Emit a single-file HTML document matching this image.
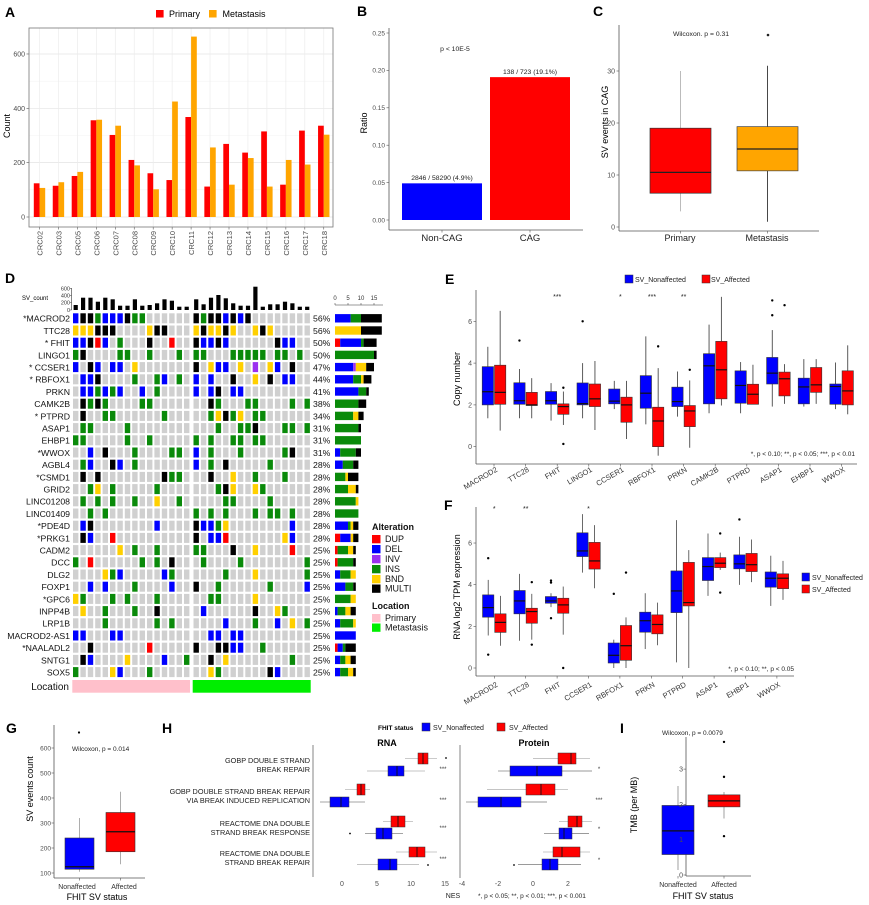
<!DOCTYPE html>
<html><head><meta charset="utf-8"><title>Figure</title>
<style>html,body{margin:0;padding:0;background:#fff}svg{display:block}text{font-family:"Liberation Sans",Arial,sans-serif}</style>
</head><body>
<svg id="s" xmlns="http://www.w3.org/2000/svg" width="869" height="905" viewBox="0 0 869 905">
<rect width="869" height="905" fill="#fff"/>
<g id="shapes"></g>
<g id="texts">
<g font-weight="bold" font-size="14" fill="#000">
<text x="5" y="17">A</text><text x="357" y="16">B</text><text x="593" y="16">C</text>
<text x="5" y="283">D</text><text x="445" y="284">E</text><text x="444" y="510">F</text>
<text x="6" y="733">G</text><text x="162" y="733">H</text><text x="620" y="733">I</text>
</g>
<!-- A -->
<g font-size="9"><text x="169" y="17">Primary</text><text x="222.5" y="17">Metastasis</text></g>
<g font-size="7" fill="#4d4d4d" text-anchor="end">
<text x="25" y="219.5">0</text><text x="25" y="165.2">200</text><text x="25" y="110.8">400</text><text x="25" y="56.5">600</text></g>
<text transform="translate(10,126) rotate(-90)" font-size="9" text-anchor="middle">Count</text>
<g font-size="7.5" fill="#4d4d4d" text-anchor="end">
<text transform="translate(42.5,231) rotate(-90)">CRC02</text>
<text transform="translate(61.45,231) rotate(-90)">CRC03</text>
<text transform="translate(80.4,231) rotate(-90)">CRC05</text>
<text transform="translate(99.35,231) rotate(-90)">CRC06</text>
<text transform="translate(118.3,231) rotate(-90)">CRC07</text>
<text transform="translate(137.25,231) rotate(-90)">CRC08</text>
<text transform="translate(156.2,231) rotate(-90)">CRC09</text>
<text transform="translate(175.15,231) rotate(-90)">CRC10</text>
<text transform="translate(194.1,231) rotate(-90)">CRC11</text>
<text transform="translate(213.05,231) rotate(-90)">CRC12</text>
<text transform="translate(232,231) rotate(-90)">CRC13</text>
<text transform="translate(250.95,231) rotate(-90)">CRC14</text>
<text transform="translate(269.9,231) rotate(-90)">CRC15</text>
<text transform="translate(288.85,231) rotate(-90)">CRC16</text>
<text transform="translate(307.8,231) rotate(-90)">CRC17</text>
<text transform="translate(326.75,231) rotate(-90)">CRC18</text>
</g>
<!-- B -->
<g font-size="6.5" fill="#4d4d4d" text-anchor="end">
<text x="385" y="222.3">0.00</text><text x="385" y="184.9">0.05</text><text x="385" y="147.5">0.10</text>
<text x="385" y="110.1">0.15</text><text x="385" y="72.7">0.20</text><text x="385" y="35.3">0.25</text></g>
<text transform="translate(367,123) rotate(-90)" font-size="9" text-anchor="middle">Ratio</text>
<g font-size="6.8" text-anchor="middle" fill="#222">
<text x="455" y="51">p &lt; 10E-5</text>
<text x="442" y="180">2846 / 58290 (4.9%)</text>
<text x="530" y="74">138 / 723 (19.1%)</text></g>
<g font-size="9.5" text-anchor="middle" fill="#222"><text x="442" y="241">Non-CAG</text><text x="530" y="241">CAG</text></g>
<!-- C -->
<g font-size="7" fill="#4d4d4d" text-anchor="end">
<text x="615" y="229.5">0</text><text x="615" y="177.5">10</text><text x="615" y="125.5">20</text><text x="615" y="73.5">30</text></g>
<text x="701" y="36" font-size="6.8" text-anchor="middle" fill="#222">Wilcoxon. p = 0.31</text>
<text transform="translate(608,122) rotate(-90)" font-size="9" text-anchor="middle">SV events in CAG</text>
<g font-size="9" text-anchor="middle" fill="#222"><text x="680" y="241">Primary</text><text x="767" y="241">Metastasis</text></g>
<!-- D -->
<text x="22" y="300" font-size="6">SV_count</text>
<g font-size="5.5" fill="#333" text-anchor="end">
<text x="70" y="290.3">600</text><text x="70" y="297.7">400</text><text x="70" y="304.7">200</text><text x="70" y="312">0</text></g>
<g font-size="6" fill="#333" text-anchor="middle">
<text x="335" y="300">0</text><text x="348" y="300">5</text><text x="361" y="300">10</text><text x="374" y="300">15</text></g>
<g font-size="8.7" text-anchor="end" fill="#111">
<text x="70" y="321.7">*MACROD2</text><text x="70" y="333.9">TTC28</text><text x="70" y="346.1">* FHIT</text>
<text x="70" y="358.3">LINGO1</text><text x="70" y="370.5">* CCSER1</text><text x="70" y="382.7">* RBFOX1</text>
<text x="70" y="394.9">PRKN</text><text x="70" y="407.1">CAMK2B</text><text x="70" y="419.3">* PTPRD</text>
<text x="70" y="431.5">ASAP1</text><text x="70" y="443.7">EHBP1</text><text x="70" y="455.9">*WWOX</text>
<text x="70" y="468.1">AGBL4</text><text x="70" y="480.3">*CSMD1</text><text x="70" y="492.5">GRID2</text>
<text x="70" y="504.7">LINC01208</text><text x="70" y="516.9">LINC01409</text><text x="70" y="529.1">*PDE4D</text>
<text x="70" y="541.3">*PRKG1</text><text x="70" y="553.5">CADM2</text><text x="70" y="565.7">DCC</text>
<text x="70" y="577.9">DLG2</text><text x="70" y="590.1">FOXP1</text><text x="70" y="602.3">*GPC6</text>
<text x="70" y="614.5">INPP4B</text><text x="70" y="626.7">LRP1B</text><text x="70" y="638.9">MACROD2-AS1</text>
<text x="70" y="651.1">*NAALADL2</text><text x="70" y="663.3">SNTG1</text><text x="70" y="675.5">SOX5</text>
</g>
<g font-size="8.7" fill="#111">
<text x="313" y="321.7">56%</text><text x="313" y="333.9">56%</text><text x="313" y="346.1">50%</text>
<text x="313" y="358.3">50%</text><text x="313" y="370.5">47%</text><text x="313" y="382.7">44%</text>
<text x="313" y="394.9">41%</text><text x="313" y="407.1">38%</text><text x="313" y="419.3">34%</text>
<text x="313" y="431.5">31%</text><text x="313" y="443.7">31%</text><text x="313" y="455.9">31%</text>
<text x="313" y="468.1">28%</text><text x="313" y="480.3">28%</text><text x="313" y="492.5">28%</text>
<text x="313" y="504.7">28%</text><text x="313" y="516.9">28%</text><text x="313" y="529.1">28%</text>
<text x="313" y="541.3">28%</text><text x="313" y="553.5">25%</text><text x="313" y="565.7">25%</text>
<text x="313" y="577.9">25%</text><text x="313" y="590.1">25%</text><text x="313" y="602.3">25%</text>
<text x="313" y="614.5">25%</text><text x="313" y="626.7">25%</text><text x="313" y="638.9">25%</text>
<text x="313" y="651.1">25%</text><text x="313" y="663.3">25%</text><text x="313" y="675.5">25%</text>
</g>
<text x="69" y="690" font-size="10" text-anchor="end" fill="#111">Location</text>
<g font-size="9" fill="#111">
<text x="372" y="530" font-weight="bold">Alteration</text>
<text x="385" y="542">DUP</text><text x="385" y="552">DEL</text><text x="385" y="562">INV</text>
<text x="385" y="572">INS</text><text x="385" y="582">BND</text><text x="385" y="591.5">MULTI</text>
<text x="372" y="609" font-weight="bold">Location</text>
<text x="385" y="621">Primary</text><text x="385" y="630.5">Metastasis</text>
</g>
<!-- E -->
<g font-size="7" fill="#222"><text x="635" y="282">SV_Nonaffected</text><text x="711" y="282">SV_Affected</text></g>
<g font-size="7" text-anchor="middle" fill="#222">
<text x="557.2" y="299">***</text><text x="620.4" y="299">*</text><text x="652" y="299">***</text><text x="683.6" y="299">**</text></g>
<g font-size="7" fill="#4d4d4d" text-anchor="end">
<text x="472" y="449.2">0</text><text x="472" y="407.4">2</text><text x="472" y="365.6">4</text><text x="472" y="323.8">6</text></g>
<text transform="translate(460,379) rotate(-90)" font-size="9" text-anchor="middle">Copy number</text>
<text x="855" y="456" font-size="6.5" text-anchor="end" fill="#222">*, p &lt; 0.10; **, p &lt; 0.05; ***, p &lt; 0.01</text>
<g font-size="7.5" fill="#333" text-anchor="end">
<text transform="translate(498,471) rotate(-30)">MACROD2</text>
<text transform="translate(529.6,471) rotate(-30)">TTC28</text>
<text transform="translate(561.2,471) rotate(-30)">FHIT</text>
<text transform="translate(592.8,471) rotate(-30)">LINGO1</text>
<text transform="translate(624.4,471) rotate(-30)">CCSER1</text>
<text transform="translate(656,471) rotate(-30)">RBFOX1</text>
<text transform="translate(687.6,471) rotate(-30)">PRKN</text>
<text transform="translate(719.2,471) rotate(-30)">CAMK2B</text>
<text transform="translate(750.8,471) rotate(-30)">PTPRD</text>
<text transform="translate(782.4,471) rotate(-30)">ASAP1</text>
<text transform="translate(814,471) rotate(-30)">EHBP1</text>
<text transform="translate(845.6,471) rotate(-30)">WWOX</text>
</g>
<!-- F -->
<g font-size="7" text-anchor="middle" fill="#222">
<text x="494.3" y="511">*</text><text x="525.7" y="511">**</text><text x="588.5" y="511">*</text></g>
<g font-size="7" fill="#4d4d4d" text-anchor="end">
<text x="472" y="670.5">0</text><text x="472" y="628.8">2</text><text x="472" y="587.2">4</text><text x="472" y="545.5">6</text></g>
<text transform="translate(460,587) rotate(-90)" font-size="9" text-anchor="middle">RNA log2 TPM expression</text>
<g font-size="7" fill="#222"><text x="812" y="580">SV_Nonaffected</text><text x="812" y="592">SV_Affected</text></g>
<text x="794" y="671" font-size="6.5" text-anchor="end" fill="#222">*, p &lt; 0.10; **, p &lt; 0.05</text>
<g font-size="7.5" fill="#333" text-anchor="end">
<text transform="translate(498.3,686) rotate(-30)">MACROD2</text>
<text transform="translate(529.7,686) rotate(-30)">TTC28</text>
<text transform="translate(561.1,686) rotate(-30)">FHIT</text>
<text transform="translate(592.5,686) rotate(-30)">CCSER1</text>
<text transform="translate(623.9,686) rotate(-30)">RBFOX1</text>
<text transform="translate(655.3,686) rotate(-30)">PRKN</text>
<text transform="translate(686.7,686) rotate(-30)">PTPRD</text>
<text transform="translate(718.1,686) rotate(-30)">ASAP1</text>
<text transform="translate(749.5,686) rotate(-30)">EHBP1</text>
<text transform="translate(780.9,686) rotate(-30)">WWOX</text>
</g>
<!-- G -->
<text x="72" y="751" font-size="6.5" fill="#222">Wilcoxon, p = 0.014</text>
<g font-size="6.5" fill="#4d4d4d" text-anchor="end">
<text x="51" y="875.3">100</text><text x="51" y="850.3">200</text><text x="51" y="825.3">300</text>
<text x="51" y="800.3">400</text><text x="51" y="775.3">500</text><text x="51" y="750.3">600</text></g>
<text transform="translate(33,789) rotate(-90)" font-size="9" text-anchor="middle">SV events count</text>
<g font-size="7" fill="#333" text-anchor="middle"><text x="77" y="889">Nonaffected</text><text x="124" y="889">Affected</text></g>
<text x="97" y="900" font-size="9" text-anchor="middle">FHIT SV status</text>
<!-- H -->
<text x="378" y="730" font-size="6.5" font-weight="bold">FHIT status</text>
<g font-size="7" fill="#222"><text x="433" y="730">SV_Nonaffected</text><text x="509" y="730">SV_Affected</text></g>
<g font-size="9" font-weight="bold" text-anchor="middle"><text x="387" y="746">RNA</text><text x="534" y="746">Protein</text></g>
<g font-size="7.3" text-anchor="end" fill="#222">
<text x="310" y="763">GOBP DOUBLE STRAND</text><text x="310" y="772">BREAK REPAIR</text>
<text x="310" y="794">GOBP DOUBLE STRAND BREAK REPAIR</text><text x="310" y="803">VIA BREAK INDUCED REPLICATION</text>
<text x="310" y="826">REACTOME DNA DOUBLE</text><text x="310" y="835">STRAND BREAK RESPONSE</text>
<text x="310" y="856">REACTOME DNA DOUBLE</text><text x="310" y="865">STRAND BREAK REPAIR</text>
</g>
<g font-size="6" text-anchor="middle" fill="#333">
<text x="443" y="771">***</text><text x="443" y="802">***</text><text x="443" y="830">***</text><text x="443" y="861">***</text>
<text x="599" y="771">*</text><text x="599" y="802">***</text><text x="599" y="831">*</text><text x="599" y="862">*</text></g>
<g font-size="7" fill="#4d4d4d" text-anchor="middle">
<text x="342" y="886">0</text><text x="377" y="886">5</text><text x="411" y="886">10</text><text x="445" y="886">15</text>
<text x="462" y="886">-4</text><text x="498" y="886">-2</text><text x="533" y="886">0</text><text x="568" y="886">2</text></g>
<text x="453" y="898" font-size="7" text-anchor="middle" fill="#222">NES</text>
<text x="478" y="898" font-size="6.5" fill="#222">*, p &lt; 0.05; **, p &lt; 0.01; ***, p &lt; 0.001</text>
<!-- I -->
<text x="662" y="735" font-size="6.5" fill="#222">Wilcoxon, p = 0.0079</text>
<g font-size="7" fill="#4d4d4d" text-anchor="end">
<text x="683" y="877.5">0</text><text x="683" y="842.2">1</text><text x="683" y="806.9">2</text><text x="683" y="771.6">3</text></g>
<text transform="translate(637,805) rotate(-90)" font-size="9" text-anchor="middle">TMB (per MB)</text>
<g font-size="7" fill="#333" text-anchor="middle"><text x="678" y="887">Nonaffected</text><text x="724" y="887">Affected</text></g>
<text x="703" y="899" font-size="9" text-anchor="middle">FHIT SV status</text>
</g>
</svg>
<script>
(function(){
var NS="http://www.w3.org/2000/svg",G=document.getElementById('shapes');
function el(t,a){var e=document.createElementNS(NS,t);for(var k in a)e.setAttribute(k,a[k]);G.appendChild(e);return e;}
function rect(x,y,w,h,f,s,sw){return el('rect',{x:x,y:y,width:w,height:Math.max(h,0),fill:f,stroke:s||'none','stroke-width':sw||0});}
function line(x1,y1,x2,y2,s,sw){return el('line',{x1:x1,y1:y1,x2:x2,y2:y2,stroke:s,'stroke-width':sw||1});}
function circ(cx,cy,r,f){return el('circle',{cx:cx,cy:cy,r:r,fill:f});}
var RED='#ff0000',BLUE='#0000ff',ORG='#ffa500';
// ---- A ----
var Ay=function(v){return 217-v*0.2717;};
[100,300,500].forEach(function(v){line(29,Ay(v),333,Ay(v),'#f3f3f3',0.6);});
[0,200,400,600].forEach(function(v){line(29,Ay(v),333,Ay(v),'#e4e4e4',0.7);});
var prim=[124,115,151,356,302,210,161,136,368,112,269,237,315,119,318,336];
var met=[107,128,166,358,336,190,102,425,664,256,119,217,112,210,193,303];
for(var i=0;i<16;i++){var cx=39.5+18.95*i;line(cx,28,cx,227,'#ececec',0.7);
 rect(cx-5.7,Ay(prim[i]),5.7,217-Ay(prim[i]),RED);rect(cx,Ay(met[i]),5.7,217-Ay(met[i]),ORG);
 line(cx,227,cx,229.5,'#555',0.6);}
[0,200,400,600].forEach(function(v){line(26.5,Ay(v),29,Ay(v),'#555',0.6);});
rect(29,28,304,199,'none','#777',0.8);
rect(156,10,7.6,7.5,RED);rect(209,10,7.6,7.5,ORG);
// ---- B ----
var By=function(v){return 220-748*v;};
line(389,28,389,230,'#555',0.8);line(389,230,583,230,'#555',0.8);
[0,.05,.1,.15,.2,.25].forEach(function(v){line(386.5,By(v),389,By(v),'#555',0.6);});
line(442,230,442,232.5,'#555',0.6);line(530,230,530,232.5,'#555',0.6);
rect(402,By(0.049),80,220-By(0.049),BLUE);rect(490,By(0.191),80,220-By(0.191),RED);
// ---- C ----
var Cy=function(v){return 227-5.2*v;};
line(619,25,619,231,'#555',0.8);line(619,231,819,231,'#555',0.8);
[0,10,20,30].forEach(function(v){line(616.5,Cy(v),619,Cy(v),'#555',0.6);});
line(680.5,231,680.5,233.5,'#555',0.6);line(767.5,231,767.5,233.5,'#555',0.6);
line(680.5,Cy(30),680.5,Cy(3),'#bbbbbb',1);
rect(650,Cy(19),61,Cy(6.5)-Cy(19),RED,'#333',0.7);line(650,Cy(10.5),711,Cy(10.5),'#222',1.2);
line(767.5,Cy(31),767.5,Cy(1),'#333',0.9);
rect(737,Cy(19.3),61,Cy(10.8)-Cy(19.3),ORG,'#444',0.7);line(737,Cy(15),798,Cy(15),'#222',1.2);
circ(768,35,1.3,'#222');
// ---- D ----
var col={B:'#0000ff',K:'#000000',N:'#0a8a0a',Y:'#ffd000',R:'#ff0000',P:'#9b30f0','.':'#d0d0d0'};
var P=["BKKNBBBKNN......","YYYKKK....YKK...","BBKRB.N...K..R..","NK....NN..N...N.","B.KB.BB.Y.......",".BBK....N..NB.N.",".BBNBNB..B.N....",".KNKN....NN.....",".K..NN......N...",".NN....N........","NN.....N..N.....","..B.K...N....NN.",".NB..KB.N.......",".K.K........KNN.","..NY.N.....N....",".N.N.N..N..Y..N.","..N.N...........",".BK........B....",".KB..R..........","......Y.N..N....","N.R......N.N.K..","....YNB.....BN..","..B.B...N....B..","YN...N.N...N....",".Y..N...N..K....","....N......N.N..","BB...BB.........","..K.......R.....",".KB....Y....B..N","N....YB...N....."];
var M=["KNKKBKBK........","YKYYKY..YKY.....","KBBKB......KBB..","NN...NNNNN.NN.N.","K.YBB.Y.P.YB.K..","B.B..K..Y.K.BB..","B.BK.BB.........","..KN...NN....N.N","..NYKNY.NN......","...N..NNK...NN.N","N.N..NN.NN......","B.N...N.....NK..","B.N.K.....N.....","..K..Y..N...N...","...NKY..YN......","....NN....N.....","N.N.N...N.NN.N..","KBBNY........B..","K.BBR.......YB..","NN...K..Y....R..",".N....N........N","....N...Y......N","K..N......N....B","..NN....Y.......",".B......K..YN...","....B...N..B.Y.N","..BB.BB.........","K..KKBB..N......","..K.Y........N..","..YN......KB...."];
var order=['R','B','P','N','Y','K'];
for(var r=0;r<30;r++){var y=313.3+12.2*r,cnt={};
 for(var j=0;j<16;j++){var c1=P[r][j],c2=M[r][j];
  rect(73+7.4*j,y,5.4,10,col[c1]);rect(193.5+7.4*j,y,5.4,10,col[c2]);
  if(c1!='.')cnt[c1]=(cnt[c1]||0)+1;if(c2!='.')cnt[c2]=(cnt[c2]||0)+1;}
 var x=335;order.forEach(function(k){if(cnt[k]){rect(x,y+0.8,cnt[k]*2.6,8.4,col[k]);x+=cnt[k]*2.6;}});
}
var hp=[5,12.3,12.3,8.3,12.3,10.7,4.3,4.3,10.7,4.3,5,6.7,10.7,9.3,3.3,3.3];
var hm=[10.7,5.7,12.3,15,11.7,6.7,4.3,4.3,23.3,3.3,5.7,5.7,8.3,6.7,3.3,3.3];
for(var j=0;j<16;j++){rect(73.6+7.4*j,310-hp[j],4.2,hp[j],'#000');rect(194.1+7.4*j,310-hm[j],4.2,hm[j],'#000');}
line(71.5,288,71.5,310,'#333',0.6);
[288.3,295.7,302.7,310].forEach(function(v){line(70,v,71.5,v,'#333',0.5);});
line(335,305,383,305,'#333',0.6);
[335,348,361,374].forEach(function(v){line(v,303,v,305,'#333',0.5);});
rect(72.3,680,117.7,12.7,'#ffc0cb');rect(192.7,680,118,12.7,'#00ee00');
var lg=[['R',535],['B',545],['P',555],['N',565],['Y',575],['K',584.5]];
lg.forEach(function(a){rect(372,a[1],8.5,8.3,col[a[0]]);});
rect(372,614,8.5,8.3,'#ffc0cb');rect(372,623.5,8.5,8.3,'#00ee00');
// ---- box helper ----
function vbox(cx,w,Y,d,fill,wc){
 line(cx,Y(d[4]),cx,Y(d[2]),wc,0.8);line(cx,Y(d[0]),cx,Y(d[3]),wc,0.8);
 rect(cx-w/2,Y(d[2]),w,Y(d[0])-Y(d[2]),fill,'#333',0.6);
 line(cx-w/2,Y(d[1]),cx+w/2,Y(d[1]),'#111',1.2);
 (d[5]||[]).forEach(function(o){circ(cx,Y(o),1.2,'#000');});
}
// ---- E ----
var Ey=function(v){return 446.7-20.9*v;};
line(476,290,476,464,'#555',0.8);line(476,464,857,464,'#555',0.8);
[0,2,4,6].forEach(function(v){line(473.5,Ey(v),476,Ey(v),'#555',0.6);});
var Eb=[[2.0,2.63,3.83,1.36,4.78],[2.03,2.2,3.06,1.36,3.72,[5.08]],[2.03,2.2,2.64,1.25,3.04],[2.0,2.06,3.05,1.36,4.0,[6.0]],[2.05,2.18,2.76,1.8,3.15],[1.84,2.56,3.4,1.07,5.28],[1.92,2.16,2.85,1.44,3.6],[2.05,3.87,4.45,1.6,5.84],[2.08,2.93,3.63,1.6,4.05],[3.0,3.52,4.27,1.92,5.58,[6.29,7.0]],[2.05,2.86,3.28,1.92,4.19],[2.03,2.88,3.0,1.8,4.03]];
var Er=[[2.03,2.6,3.9,0.77,6.5],[1.97,2.0,2.6,1.36,3.28],[1.55,1.92,2.05,1.04,2.64,[2.82,0.13]],[1.92,2.29,3.0,0.8,4.1],[1.17,2.0,2.37,0.37,3.15],[0,1.23,1.89,-0.43,3.76,[4.8]],[0.96,1.71,1.97,-0.05,3.17,[3.68]],[2.29,3.68,5.04,1.97,7.17],[2.03,2.51,2.99,2.03,3.92],[2.43,3.25,3.57,2.05,3.95,[6.77]],[2.6,2.96,3.79,2.05,4.19],[2.0,2.67,3.63,1.55,4.85]];
for(var i=0;i<12;i++){var cx=494+31.6*i;line(cx,464,cx,466.5,'#555',0.6);
 vbox(cx-6.15,11.3,Ey,Eb[i],BLUE,'#333');vbox(cx+6.15,11.3,Ey,Er[i],RED,'#333');}
rect(625,275,8,8,BLUE,'#333',0.5);rect(702,275,8,8,RED,'#333',0.5);
// ---- F ----
var Fy=function(v){return 668-20.83*v;};
line(476,507,476,676,'#555',0.8);line(476,676,794,676,'#555',0.8);
[0,2,4,6].forEach(function(v){line(473.5,Fy(v),476,Fy(v),'#555',0.6);});
var Fb=[[2.44,2.9,3.51,1.56,4.23,[5.27,0.64]],[2.6,3.22,3.72,1.31,4.52],[3.11,3.22,3.43,2.92,3.59,[4.2,4.1,2.39]],[5.35,5.62,6.49,4.58,7.39],[0.24,0.61,1.2,0,1.36,[3.56]],[1.72,2.27,2.68,0.91,3.59],[2.66,3.7,4.66,0.27,7.1],[4.2,4.87,5.3,3.46,6.46],[4.76,5.0,5.43,3.99,6.3,[7.13]],[3.88,4.31,4.61,2.98,5.39]];
var Fr=[[1.71,2.19,2.6,1.07,3.46],[2.15,2.71,2.87,1.36,3.56,[4.12,1.12]],[2.63,3.03,3.35,1.6,3.91,[0]],[4.75,5.14,6.03,3.83,6.86],[0.37,1.07,2.04,0,2.43,[4.58]],[1.64,2.09,2.55,1.09,3.14],[2.98,3.14,5.07,0,5.66],[4.82,5.03,5.3,4.71,5.54,[6.46,3.62]],[4.63,4.96,5.5,4.12,6.17],[3.81,4.31,4.52,3.27,5.14]];
for(var i=0;i<10;i++){var cx=494.3+31.4*i;line(cx,676,cx,678.5,'#555',0.6);
 vbox(cx-6.1,11.3,Fy,Fb[i],BLUE,'#444');vbox(cx+6.1,11.3,Fy,Fr[i],RED,'#444');}
rect(802,573,7.5,8,BLUE,'#333',0.5);rect(802,585,7.5,8,RED,'#333',0.5);
// ---- G ----
var Gy=function(v){return 898-0.25*v;};
line(54,725,54,878,'#555',0.8);line(54,878,145,878,'#555',0.8);
[100,200,300,400,500,600].forEach(function(v){line(51.5,Gy(v),54,Gy(v),'#555',0.6);});
line(79.5,878,79.5,880.5,'#555',0.6);line(120.5,878,120.5,880.5,'#555',0.6);
vbox(79.5,29,Gy,[115,125,240,105,320],BLUE,'#999');
vbox(120.5,29,Gy,[185,265,342,135,425],RED,'#999');
circ(79,732.5,1.1,'#000');
// ---- H ----
function hbox(x1,x2,y1,y2,md,w1,w2,fill,wc){var ym=(y1+y2)/2;
 line(w1,ym,x1,ym,wc,0.9);line(x2,ym,w2,ym,wc,0.9);
 rect(x1,y1,x2-x1,y2-y1,fill,'#333',0.5);line(md,y1,md,y2,'#111',0.9);}
line(313,745,313,877,'#666',0.8);line(460,745,460,878,'#666',0.8);
var LG='#c4c4c4',DG='#9a9a9a';
hbox(418,428,753,764,423,405,437,RED,LG);hbox(388,404,766,776,397,367,425,BLUE,LG);
hbox(357,365,784,795,361,345,370,RED,LG);hbox(330,349,797,807,341,320,365,BLUE,DG);
hbox(391,405,816,827,398,383,413,RED,LG);hbox(376,392,828,839,383,365,403,BLUE,DG);
hbox(409,425,847,857,417,396,437,RED,LG);hbox(378,397,859,870,390,357,419,BLUE,LG);
circ(350,833.5,0.9,'#000');circ(428,865,0.9,'#000');circ(446,758,0.9,'#000');
hbox(558,576,753,764,571,533,590,RED,LG);hbox(510,562,766,776,537,498,592,BLUE,DG);
hbox(526,555,784,795,541,487,568,RED,LG);hbox(478,521,797,807,501,466,547,BLUE,DG);
hbox(568,582,816,827,577,559,592,RED,LG);hbox(559,572,828,839,564,544,589,BLUE,DG);
hbox(553,580,847,857,562,543,590,RED,LG);hbox(542,558,859,870,550,518,581,BLUE,DG);
circ(514,865,0.9,'#000');
rect(422,723,8,8,BLUE,'#333',0.5);rect(497,723,8,8,RED,'#333',0.5);
// ---- I ----
var Iy=function(v){return 875-35.3*v;};
line(686,737,686,876,'#555',0.8);line(686,876,751,876,'#555',0.8);
[0,1,2,3].forEach(function(v){line(683.5,Iy(v),686,Iy(v),'#555',0.6);});
line(678,876,678,878.5,'#555',0.6);line(724,876,724,878.5,'#555',0.6);
vbox(678,32,Iy,[0.58,1.25,1.97,0.14,2.52],BLUE,'#888');
vbox(724,32,Iy,[1.93,2.1,2.27,1.6,2.35,[1.1,2.78,3.77]],RED,'#888');
})();
</script>
</body></html>
